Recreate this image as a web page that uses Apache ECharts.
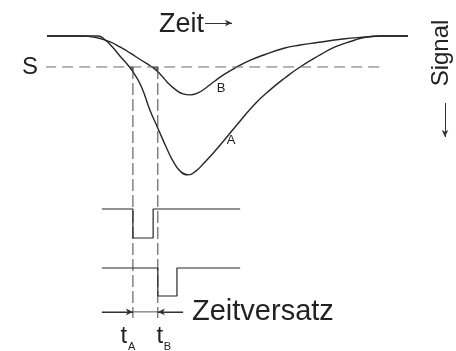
<!DOCTYPE html>
<html>
<head>
<meta charset="utf-8">
<script src="https://cdn.jsdelivr.net/npm/echarts@6/dist/echarts.min.js"></script>
<style>
  html, body { margin: 0; padding: 0; background: #ffffff; }
  #chart { width: 456px; height: 351px; }
</style>
</head>
<body>
<div id="chart"></div>
<script>
// Analogsignale zweier Impulse (Zeit in willkürlichen Einheiten, Amplitude: Maximum von A = 100)
const timeA   = [0, 10, 14.1, 16.1, 18.0, 20.2, 22.4, 24.4, 26.3, 28.5, 30.8, 33.0, 35.2, 37.1, 39.1, 41.3, 43.5, 46.3, 49.6, 53.5, 57.6, 61.8, 65.9, 70.1, 75.1, 79.8, 84.5, 88.6, 92.2, 100];
const signalA = [0, 0, 0, 2.9, 7.6, 14.4, 20.9, 28.1, 37.4, 53.2, 66.9, 79.9, 91.4, 97.8, 100, 97.1, 91.4, 83.5, 73.4, 61.2, 48.9, 38.8, 30.2, 22.3, 14.4, 7.9, 3.6, 0.7, 0, 0];
const timeB   = [0, 10, 11.9, 14.7, 17.5, 20.2, 23.0, 25.8, 29.1, 31.3, 33.5, 35.7, 37.7, 39.6, 41.8, 44.0, 46.5, 49.3, 52.6, 56.2, 60.4, 65.4, 70.1, 74.8, 82.0, 88.6, 92.2, 100];
const signalB = [0, 0, 0.4, 1.8, 4.3, 7.9, 12.2, 16.9, 22.3, 27.3, 33.8, 38.8, 41.7, 42.4, 41.0, 37.4, 32.4, 27.3, 22.3, 17.6, 13.3, 9.0, 6.5, 4.7, 2.2, 0.7, 0, 0];

// Schwelle S und Auslösezeitpunkte der Komparatoren
const thresholdS = 22.3;
const thresholdRange = [-0.5, 93.6];
const tA = 23.8;
const tB = 30.7;

// Schaltausgänge (1 = Ruhepegel, 0 = ausgelöst)
const pulseTimeA  = [15.2, 23.8, 23.8, 29.4, 29.4, 53.5];
const pulseLevelA = [1, 1, 0, 0, 1, 1];
const pulseTimeB  = [15.2, 30.7, 30.7, 36.0, 36.0, 53.5];
const pulseLevelB = [1, 1, 0, 0, 1, 1];

// Überschreitungsdreiecke zwischen Kurve, Schwelle und Auslöselinie
const crossTime  = [22.9, 29.1];
const lineTime   = [tA, tB];
const signalAtLine = [26, 25];

// Bemaßung des Zeitversatzes
const dimStart = 15.2;
const dimEnd = 37.7;

const zip = (xs, ys) => xs.map((x, i) => [x, ys[i]]);

const INK = '#262626';
const DASH = '#6a6a6a';
const FONT = '"Liberation Sans", Arial, sans-serif';

// Zeilen der Darstellung
const AXIS_MAX = 203;     // unteres Ende der Auslöselinien
const DIM_LEVEL = 198.6;  // Höhe der Bemaßungslinie

const chart = echarts.init(document.getElementById('chart'), null, { renderer: 'canvas' });

const hiddenX = (gridIndex) => ({
  type: 'value', gridIndex, min: 0, max: 100, show: false
});

const curve = (name, data) => ({
  name, type: 'line', xAxisIndex: 0, yAxisIndex: 0,
  data, smooth: 0.5,
  symbol: 'none', clip: false, silent: true,
  lineStyle: { color: INK, width: 1.4 }
});

const option = {
  animation: false,
  backgroundColor: '#ffffff',
  grid: [
    { left: 47, width: 361, top: 36, height: 282 },   // Analogsignale
    { left: 47, width: 361, top: 209, height: 29 },   // Ausgang A
    { left: 47, width: 361, top: 268, height: 28 }    // Ausgang B
  ],
  xAxis: [hiddenX(0), hiddenX(1), hiddenX(2)],
  yAxis: [
    { type: 'value', gridIndex: 0, min: 0, max: AXIS_MAX, inverse: true, show: false },
    { type: 'value', gridIndex: 1, min: 0, max: 1, show: false },
    { type: 'value', gridIndex: 2, min: 0, max: 1, show: false }
  ],
  series: [
    curve('A', zip(timeA, signalA)),
    curve('B', zip(timeB, signalB)),
    {
      name: 'S', type: 'line', xAxisIndex: 0, yAxisIndex: 0,
      data: thresholdRange.map(t => [t, thresholdS]),
      symbol: 'none', clip: false, silent: true,
      lineStyle: { color: DASH, width: 1, type: [11, 6] }
    },
    {
      name: 'tA', type: 'line', xAxisIndex: 0, yAxisIndex: 0,
      data: [[tA, thresholdS], [tA, AXIS_MAX]],
      symbol: 'none', clip: false, silent: true,
      lineStyle: { color: '#444', width: 1, type: [12, 4] }
    },
    {
      name: 'tB', type: 'line', xAxisIndex: 0, yAxisIndex: 0,
      data: [[tB, thresholdS], [tB, AXIS_MAX]],
      symbol: 'none', clip: false, silent: true,
      lineStyle: { color: '#444', width: 1, type: [12, 4] }
    },
    {
      name: 'Überschreitung', type: 'custom', xAxisIndex: 0, yAxisIndex: 0,
      data: lineTime.map((t, i) => [t, signalAtLine[i]]),
      clip: false, silent: true,
      renderItem: (params, api) => {
        const i = params.dataIndex;
        const pts = [
          api.coord([crossTime[i], thresholdS]),
          api.coord([lineTime[i], thresholdS]),
          api.coord([lineTime[i], signalAtLine[i]])
        ];
        return {
          type: 'polygon',
          shape: { points: pts },
          style: { fill: '#8c8c8c', stroke: '#444', lineWidth: 0.7 }
        };
      }
    },
    {
      name: 'Ausgang A', type: 'line', xAxisIndex: 1, yAxisIndex: 1,
      data: zip(pulseTimeA, pulseLevelA),
      symbol: 'none', clip: false, silent: true,
      lineStyle: { color: INK, width: 1.2 }
    },
    {
      name: 'Ausgang B', type: 'line', xAxisIndex: 2, yAxisIndex: 2,
      data: zip(pulseTimeB, pulseLevelB),
      symbol: 'none', clip: false, silent: true,
      lineStyle: { color: INK, width: 1.2 }
    },
    {
      name: 'Zeitversatz', type: 'line', xAxisIndex: 0, yAxisIndex: 0,
      data: [[dimStart, DIM_LEVEL], [dimEnd, DIM_LEVEL]],
      symbol: 'none', clip: false, silent: true,
      lineStyle: { color: '#555', width: 1 },
      markLine: {
        silent: true,
        symbol: ['none', 'arrow'],
        symbolSize: [5, 7],
        label: { show: false },
        lineStyle: { color: '#333', width: 1, type: 'solid' },
        data: [
          [{ coord: [dimStart, DIM_LEVEL] }, { coord: [tA, DIM_LEVEL] }],
          [{ coord: [dimEnd, DIM_LEVEL] }, { coord: [tB, DIM_LEVEL] }],
          [{ x: 205, y: 23 }, { x: 232, y: 23 }],
          [{ x: 445, y: 103 }, { x: 445, y: 137 }]
        ]
      }
    }
  ]
};

chart.setOption(option);

// Beschriftungen
const px = (t) => chart.convertToPixel({ gridIndex: 0 }, [t, 0])[0];
function text(x, y, str, size, align, rotation) {
  return {
    type: 'text', x, y, rotation: rotation || 0, silent: true,
    style: {
      text: str, fill: '#222', font: `${size}px ${FONT}`,
      align: align || 'left', verticalAlign: 'middle'
    }
  };
}

chart.setOption({
  graphic: [
    text(159, 25, 'Zeit', 27),
    text(30, 67, 'S', 24, 'center'),
    text(441, 53, 'Signal', 24, 'center', Math.PI / 2),
    text(221, 88, 'B', 13, 'center'),
    text(231, 140, 'A', 13, 'center'),
    text(192, 312, 'Zeitversatz', 29),
    text(px(tA) - 9, 336, 't', 24, 'center'),
    text(px(tA) - 5, 347, 'A', 11),
    text(px(tB) + 2, 336, 't', 24, 'center'),
    text(px(tB) + 6, 347, 'B', 11)
  ]
});
</script>
</body>
</html>
